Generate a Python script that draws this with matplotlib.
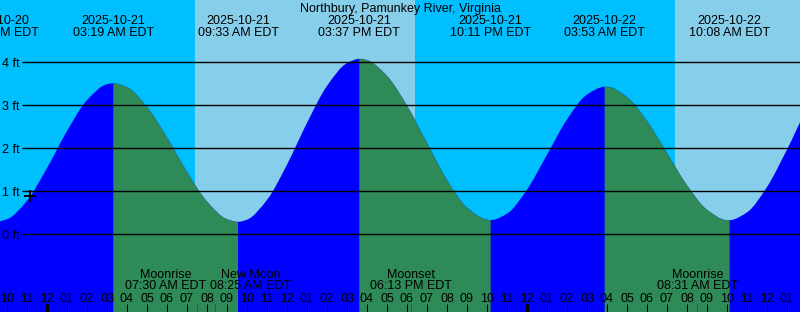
import matplotlib.pyplot as plt
import numpy as np
import pandas as pd
from matplotlib.path import Path
from matplotlib.patches import PathPatch

plt.rcParams['font.family'] = ['Liberation Sans', 'DejaVu Sans']

title = "Northbury, Pamunkey River, Virginia"

# highs and lows (EDT), first and last ones lie off the picture
tide_times = ["2025-10-20 21:32", "2025-10-21 03:19", "2025-10-21 09:33",
              "2025-10-21 15:37", "2025-10-21 22:11", "2025-10-22 03:53",
              "2025-10-22 10:08", "2025-10-22 16:20"]
tide_heights = [0.30, 3.51, 0.29, 4.08, 0.33, 3.43, 0.33, 4.04]

# hourly heights (ft), from 2025-10-20 21:00
hourly_start = "2025-10-20 21:00"
hourly_heights = [0.37, 0.35, 0.78, 1.54, 2.40, 3.12, 3.49,
                  3.42, 2.96, 2.25, 1.45, 0.76, 0.35,
                  0.34, 0.80, 1.62, 2.59, 3.45, 3.98,
                  4.05, 3.68, 2.99, 2.12, 1.26, 0.62, 0.34,
                  0.48, 1.04, 1.85, 2.67, 3.25,
                  3.43, 3.19, 2.63, 1.89, 1.14, 0.57, 0.33,
                  0.51, 1.10, 1.97, 2.89]

sun_times = ["2025-10-21 07:24", "2025-10-21 18:24", "2025-10-22 07:24"]  # rise, set, rise

moon_names = ["Moonrise", "New Moon", "Moonset", "Moonrise"]
moon_times = ["2025-10-21 07:30", "2025-10-21 08:25", "2025-10-21 18:13", "2025-10-22 08:31"]

now_time = "2025-10-20 23:09"
now_height = 0.88

ft_levels = [0, 1, 2, 3, 4]

night_col = '#00BFFF'
day_col = '#87CEEB'
rise_col = '#0000FF'
fall_col = '#2E8B57'

base = pd.Timestamp("2025-10-21 00:00")


def hrs(ts):
    return np.asarray((pd.to_datetime(ts) - base) / pd.Timedelta(hours=1), dtype=float)


# pixel layout: 20 px per hour, midnight at x=47; 43 px per ft, 0 ft at y=234.3
def px_x(px):
    return (px - 47) / 20.0


def px_y(py):
    return (234.3 - py) / 43.0


ext_t = hrs(tide_times)
hour_t = hrs(pd.date_range(hourly_start, periods=len(hourly_heights), freq="h"))
t = np.concatenate([hour_t, ext_t])
h = np.concatenate([hourly_heights, tide_heights]).astype(float)
o = np.argsort(t)
t, h = t[o], h[o]


# tangents for drawing the curve smoothly (flat at highs and lows)
def slopes(x, y):
    d = np.diff(y) / np.diff(x)
    m = np.zeros_like(y)
    m[0], m[-1] = d[0], d[-1]
    for i in range(1, len(y) - 1):
        if d[i - 1] * d[i] > 0:
            w1 = 2 * (x[i + 1] - x[i]) + (x[i] - x[i - 1])
            w2 = (x[i + 1] - x[i]) + 2 * (x[i] - x[i - 1])
            m[i] = (w1 + w2) / (w1 / d[i - 1] + w2 / d[i])
    return m


m = slopes(t, h)
bottom = px_y(330)


def area_path(i0, i1):
    verts = [(t[i0], bottom), (t[i0], h[i0])]
    codes = [Path.MOVETO, Path.LINETO]
    for i in range(i0, i1):
        dt = t[i + 1] - t[i]
        verts += [(t[i] + dt / 3, h[i] + m[i] * dt / 3),
                  (t[i + 1] - dt / 3, h[i + 1] - m[i + 1] * dt / 3),
                  (t[i + 1], h[i + 1])]
        codes += [Path.CURVE4] * 3
    verts += [(t[i1], bottom), (t[i0], bottom)]
    codes += [Path.LINETO, Path.CLOSEPOLY]
    return Path(verts, codes)


fig = plt.figure(figsize=(8, 3.12), dpi=100)
fig.patch.set_facecolor(night_col)
ax = fig.add_axes([0, 0, 1, 1])
ax.axis('off')
x0, x1 = px_x(0), px_x(800)
ax.set_xlim(x0, x1)
ax.set_ylim(px_y(312), px_y(0))

sun = hrs(sun_times)
ax.axvspan(sun[0], sun[1], color=day_col, lw=0, zorder=0)
ax.axvspan(sun[2], px_x(820), color=day_col, lw=0, zorder=0)

# water: all rising colour, falling parts over it
ax.add_patch(PathPatch(area_path(0, len(t) - 1), facecolor=rise_col, lw=0, zorder=1))
ext_idx = np.where(np.isin(t, ext_t))[0]
edges = np.concatenate([[0], ext_idx, [len(t) - 1]])
for a, b in zip(edges[:-1], edges[1:]):
    if b > a and h[b] < h[a]:
        ax.add_patch(PathPatch(area_path(a, b), facecolor=fall_col, lw=0, zorder=1.1))

ax.hlines(ft_levels, px_x(22), px_x(805), colors='black', lw=1.0, zorder=2)
for lv in ft_levels:
    ax.text(px_x(2), lv - 4.4 / 43, f"{lv} ft", fontsize=9, ha='left', va='baseline', zorder=3)

ax.text(px_x(400), px_y(11.7), title, fontsize=9, ha='center', va='baseline', zorder=3)

for tt, ts in zip(ext_t, pd.to_datetime(tide_times)):
    if tt < x0 - 1 or tt > x1:
        continue
    ax.text(tt, px_y(24), ts.strftime('%Y-%m-%d'), fontsize=9, ha='center', va='baseline', zorder=3)
    ax.text(tt, px_y(36), ts.strftime('%I:%M %p EDT'), fontsize=9, ha='center', va='baseline', zorder=3)

# hour ticks along the bottom
hours = np.arange(np.ceil(x0), np.floor(x1) + 1)
tick_top, tick_bot = px_y(304), px_y(313)
for hh in hours:
    lab = (base + pd.Timedelta(hours=hh)).strftime('%I')
    ax.text(hh, px_y(301.5), lab, fontsize=9, ha='center', va='baseline', zorder=3)
    midnight = hh % 24 == 0
    ax.vlines(hh, tick_bot, tick_top, colors='black', lw=2.2 if midnight else 0.75, zorder=3)

# moon events, labels pushed apart when they would overlap
moon_t = hrs(moon_times)
ax.vlines(moon_t, tick_bot, tick_top, colors='red', lw=0.75, zorder=3.5)
lab_w = 85 / 20.0
centers = list(moon_t)
for i in range(len(moon_t) - 1):
    if moon_t[i + 1] - moon_t[i] < lab_w:
        mid = (moon_t[i] + moon_t[i + 1]) / 2 + 0.08
        centers[i] = mid - lab_w / 2
        centers[i + 1] = mid + lab_w / 2
for c, name, ts in zip(centers, moon_names, pd.to_datetime(moon_times)):
    ax.text(c, px_y(278), name, fontsize=9, ha='center', va='baseline', zorder=3)
    ax.text(c, px_y(289.3), ts.strftime('%I:%M %p EDT'), fontsize=9, ha='center', va='baseline', zorder=3)

ax.plot(hrs([now_time]), [now_height], marker='+', color='black', ms=8, mew=1.4, zorder=4)

fig.savefig('out.png', dpi=100, facecolor=fig.get_facecolor())
